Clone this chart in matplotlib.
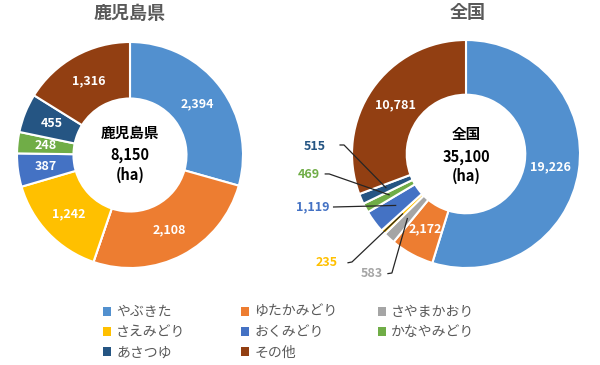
import matplotlib
matplotlib.use('Agg')
import matplotlib.pyplot as plt
from matplotlib.patches import Patch
import numpy as np

plt.rcParams['font.family'] = ['Noto Sans CJK JP', 'DejaVu Sans']

varieties = ['やぶきた', 'ゆたかみどり', 'さやまかおり', 'さえみどり',
             'おくみどり', 'かなやみどり', 'あさつゆ', 'その他']
colors = ['#5290CF', '#ED7D31', '#A5A5A5', '#FFC000',
          '#4472C4', '#70AD47', '#255583', '#923F12']
kagoshima = [2394, 2108, 0, 1242, 387, 248, 455, 1316]
national = [19226, 2172, 583, 235, 1119, 469, 515, 10781]
kagoshima_total = '8,150'
national_total = '35,100'

W, H = 600, 365
fig = plt.figure(figsize=(W / 100, H / 100), dpi=100)
LIM = 1.5


def donut_axes(cx, cy, r):
    # cx, cy, r in pixels, cy measured from the top
    side = 2 * r * LIM
    ax = fig.add_axes([(cx - r * LIM) / W, (H - cy - r * LIM) / H, side / W, side / H])
    return ax


def draw_donut(ax, values, width, skip=()):
    wedges, _ = ax.pie(values, colors=colors, startangle=90, counterclock=False,
                       radius=1, wedgeprops=dict(width=width, edgecolor='white', linewidth=1.5))
    ax.set_xlim(-LIM, LIM)
    ax.set_ylim(-LIM, LIM)
    ax.set_aspect('equal')
    ax.axis('off')
    mids = []
    for i, (w, v) in enumerate(zip(wedges, values)):
        mid = np.deg2rad((w.theta1 + w.theta2) / 2)
        mids.append(mid)
        if v == 0 or i in skip:
            continue
        ax.text(0.75 * np.cos(mid), 0.75 * np.sin(mid), f'{v:,}', color='white',
                fontsize=9, fontweight='bold', ha='center', va='center')
    return mids


# left: Kagoshima
ax1 = donut_axes(130, 155, 113)
draw_donut(ax1, kagoshima, 0.5)
ax1.text(0, 0.2, '鹿児島県', ha='center', va='center', fontsize=10.5, fontweight='bold')
ax1.text(0, 0.0, kagoshima_total, ha='center', va='center', fontsize=10.5, fontweight='bold')
ax1.text(0, -0.18, '(ha)', ha='center', va='center', fontsize=10.5, fontweight='bold')

# right: national
ax2 = donut_axes(466, 154, 114)
outside = {2: (-0.83, -1.05), 3: (-1.22, -0.955), 4: (-1.34, -0.465),
           5: (-1.38, -0.184), 6: (-1.325, 0.07)}
corners = {2: (-0.65, -1.044), 3: (-1.0, -0.947), 4: (-1.167, -0.465),
           5: (-1.2, -0.175), 6: (-1.07, 0.079)}
starts = {2: (-0.69, -1.05), 3: (-1.04, -0.955), 4: (-1.167, -0.465),
          5: (-1.24, -0.175), 6: (-1.11, 0.079)}
mids = draw_donut(ax2, national, 0.48, skip=outside)
for i, (tx, ty) in outside.items():
    ex, ey = 0.76 * np.cos(mids[i]), 0.76 * np.sin(mids[i])
    sx, sy = starts[i]
    cx, cy = corners[i]
    ax2.plot([sx, cx, ex], [sy, cy, ey], color='#262626', lw=0.9, solid_capstyle='butt')
    ax2.text(tx, ty, f'{national[i]:,}', color=colors[i], fontsize=9,
             fontweight='bold', ha='center', va='center')
ax2.text(0, 0.175, '全国', ha='center', va='center', fontsize=10.5, fontweight='bold')
ax2.text(0, -0.026, national_total, ha='center', va='center', fontsize=10.5, fontweight='bold')
ax2.text(0, -0.19, '(ha)', ha='center', va='center', fontsize=10.5, fontweight='bold')

# titles
fig.text(130 / W, 1 - 13 / H, '鹿児島県', ha='center', va='center',
         fontsize=13, fontweight='bold', color='#595959')
fig.text(468 / W, 1 - 13 / H, '全国', ha='center', va='center',
         fontsize=13, fontweight='bold', color='#595959')

# legend, row-major in three columns
handles = [Patch(facecolor=c, edgecolor='none') for c in colors]
for col, x in enumerate([103, 241, 378]):
    idx = list(range(col, len(varieties), 3))
    fig.legend([handles[i] for i in idx], [varieties[i] for i in idx],
               loc='upper left', bbox_to_anchor=(x / W, 1 - 305 / H),
               frameon=False, fontsize=10, labelcolor='#595959',
               handlelength=0.6, handleheight=0.6, handletextpad=0.35,
               labelspacing=0.45, borderpad=0, borderaxespad=0)

fig.savefig('out.png', dpi=100)
